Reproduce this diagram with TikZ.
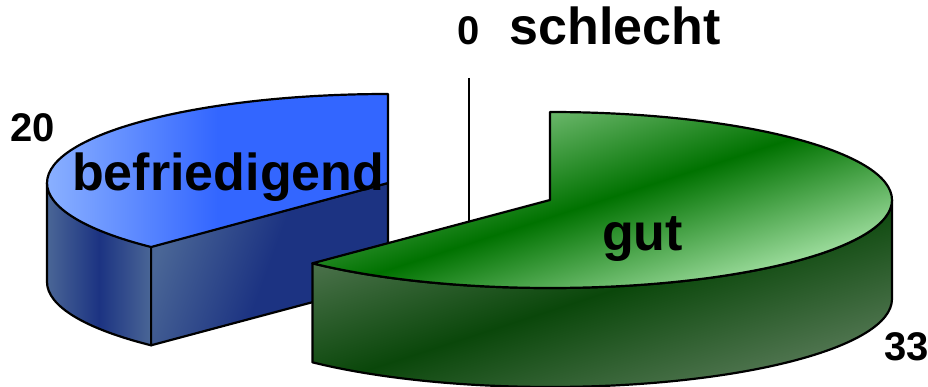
\documentclass[tikz,border=0pt]{standalone}
\usepackage{fontspec}
\setmainfont{Liberation Sans}
\usetikzlibrary{positioning}
\definecolor{bluelight}{HTML}{8AB0FF}
\definecolor{bluemain}{HTML}{3366FF}
\definecolor{navy}{HTML}{1C3382}
\definecolor{navylight}{HTML}{4A6696}
\definecolor{greenlight}{HTML}{92D092}
\definecolor{greendark}{HTML}{007200}
\definecolor{greenpale}{HTML}{B4ECB4}
\definecolor{sidegreen}{HTML}{587A58}
\definecolor{sidedark}{HTML}{0A470A}
\tikzset{slice/.style={draw=black,line width=2.2pt,line join=round},
  bigtext/.style={font=\bfseries\fontsize{52}{60}\selectfont,inner sep=0pt,anchor=base west},
  valtext/.style={font=\bfseries\fontsize{40}{48}\selectfont,inner sep=0pt,anchor=base west}}

\begin{document}
\begin{tikzpicture}[x=1pt,y=1pt]
  \useasboundingbox (0,0) rectangle (928,386);

  % befriedigend
  \coordinate (c1) at (388,203);
  \coordinate (b1) at (388,292);
  \coordinate (f1) at (151.1,139.7);
  \coordinate (l1) at (47,203);
  \path[slice,left color=navylight,right color=navylight,middle color=navy]
    (l1) arc[start angle=180,end angle=226,x radius=341,y radius=88]
    -- ++(0,-99) arc[start angle=226,end angle=180,x radius=341,y radius=88] -- cycle;
  \path[slice,left color=navylight,right color=navy,middle color=navy,shading angle=70]
    (f1) -- (c1) -- ++(0,-99) -- (151.1,40.7) -- cycle;
  \path[slice,left color=bluelight,right color=bluemain,middle color=bluemain]
    (c1) -- (b1) arc[start angle=90,end angle=226,x radius=341,y radius=89] -- cycle;

  % schlecht
  \coordinate (s1) at (469,308);
  \coordinate (s2) at (469,165);
  \draw[line width=1.6pt] (s1) -- (s2);

  % gut
  \coordinate (c2) at (550,186);
  \coordinate (b2) at (550,274);
  \coordinate (f2) at (312.4,122.7);
  \path[slice,top color=sidegreen,bottom color=sidegreen,middle color=sidedark,shading angle=18]
    (f2) arc[start angle=-134,end angle=0,x radius=342,y radius=88]
    -- ++(0,-99) arc[start angle=0,end angle=-134,x radius=342,y radius=88] -- cycle;
  \path[slice,top color=greenlight,bottom color=greenpale,middle color=greendark,shading angle=18]
    (c2) -- (b2) arc[start angle=90,end angle=-134,x radius=342,y radius=88] -- cycle;

  % labels
  \node[valtext] (zero) at (457,341) {0};
  \node[bigtext,base right=30pt of zero] (schlecht) {schlecht};
  \node[valtext] (twenty) at (10,244) {20};
  \node[bigtext] (befr) at (72,196) {befriedigend};
  \node[bigtext] (gut) at (602,136) {gut};
  \node[valtext] (thirtythree) at (884,26) {33};
\end{tikzpicture}
\end{document}
